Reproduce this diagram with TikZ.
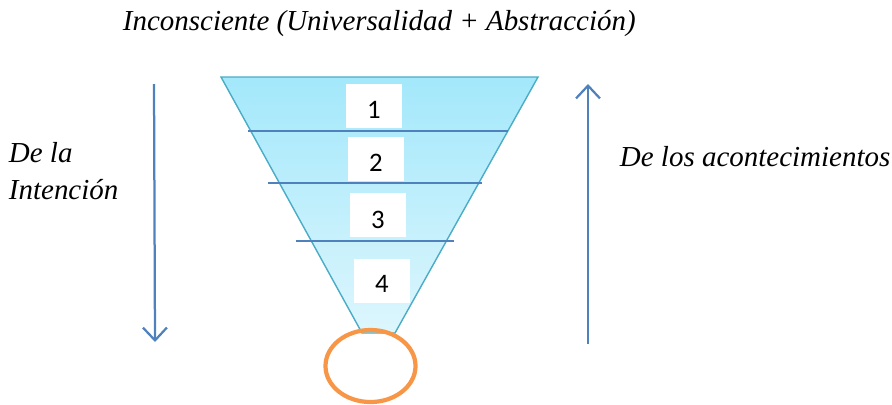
\documentclass[tikz,border=0pt]{standalone}
\usepackage{fontspec}
\setmainfont{Liberation Serif}
\newfontfamily\numfont{Carlito}
\usepackage{tikz}
\usetikzlibrary{arrows,arrows.meta,calc,positioning,shapes.geometric}
\definecolor{funneltop}{HTML}{A3E8FB}
\definecolor{funnelbot}{HTML}{DDF6FD}
\definecolor{funnelrim}{HTML}{4BACC6}
\definecolor{levelblue}{HTML}{4F81BD}
\definecolor{rootorange}{HTML}{F79646}
\tikzstyle{level}=[draw=levelblue,line width=1.6pt]
\tikzstyle{numbox}=[fill=white,minimum width=1.4cm,minimum height=1.1cm,inner sep=0pt,font=\numfont\fontsize{19}{19}\selectfont]
\tikzstyle{label}=[font=\itshape\fontsize{20.6}{26.5}\selectfont,align=left]
\tikzstyle{flow}=[draw=levelblue,line width=1.6pt,-{Straight Barb[length=3.2mm,width=6mm]}]
\newcommand{\lowered}[2]{\raisebox{#1}[0pt][0pt]{#2}}

\begin{document}
\begin{tikzpicture}[x=0.025cm,y=-0.025cm]
    \useasboundingbox (0,0) rectangle (892,404);

    % funnel
    \shade[top color=funneltop,bottom color=funnelbot,draw=funnelrim,line width=1pt]
    (221,77) -- (538,77) -- (395,333) -- (362,333) -- cycle;

    \draw[level] (248,131) -- (508,131);
    \draw[level] (268,183) -- (482,183);
    \draw[level] (296,241) -- (454,241);

    \node[numbox] (box1) at (374,106) {\lowered{-3.1mm}{1}};
    \node[numbox] (box2) at (376,159) {\lowered{-3.1mm}{2}};
    \node[numbox] (box3) at (378,214.5) {\lowered{-3.4mm}{3}};
    \node[numbox] (box4) at (382,280.5) {\lowered{-3mm}{4}};

    \node[draw=rootorange,line width=3pt,ellipse,minimum width=2.25cm,minimum height=1.8cm,inner sep=0pt] (root) at (370.5,366) {};

    \node[label,anchor=west] (title) at (118,24) {Inconsciente (Universalidad + Abstracción)};
    \node[label,anchor=north west] (intencion) at (4,137) {De la\\Intención};
    \node[label,anchor=west] (acontecimientos) at (615,157) {De los acontecimientos};

    \coordinate (downtop) at (154,84);
    \coordinate (downend) at (155,342);
    \coordinate (upbot) at (588,344);
    \coordinate (uptop) at (588,84);
    \draw[flow] (downtop) -- (downend);
    \draw[flow] (upbot) -- (uptop);
\end{tikzpicture}
\end{document}
